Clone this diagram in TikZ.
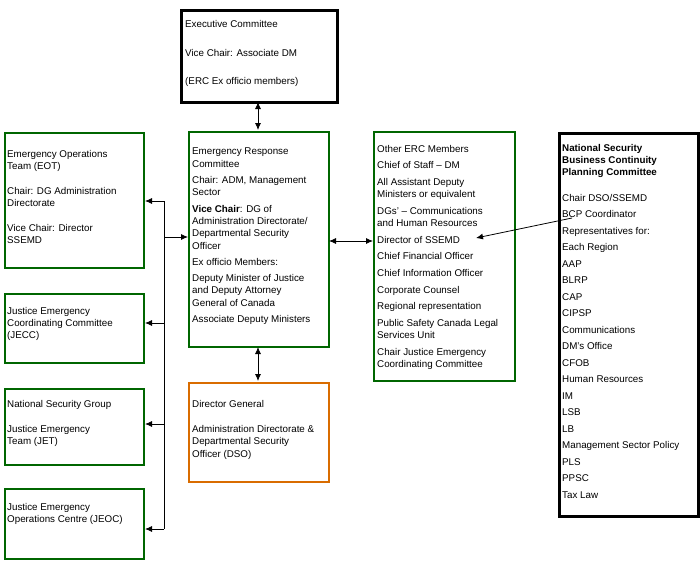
\documentclass[tikz,border=0pt]{standalone}
\usepackage{fontspec}
\setmainfont{Liberation Sans}
\usetikzlibrary{arrows.meta}
\begin{document}
\begin{tikzpicture}[x=1pt,y=-1pt,
  gbox/.style={draw=green!40!black,line width=2pt},
  obox/.style={draw=orange!85!black,line width=2pt},
  kbox/.style={draw=black,line width=3pt},
  txt/.style={anchor=north west,align=left,inner sep=0pt,font=\fontsize{9.8}{12.3}\selectfont},
  arr/.style={-{Latex[length=7pt,width=6pt]},line width=0.8pt},
  darr/.style={{Latex[length=7pt,width=6pt]}-{Latex[length=7pt,width=6pt]},line width=0.8pt}]
\useasboundingbox (0,0) rectangle (700,565);
% boxes
\node[kbox,minimum width=156,minimum height=92,anchor=north west,inner sep=0] (ex) at (180,9) {};
\node[gbox,minimum width=139,minimum height=135,anchor=north west,inner sep=0] (eot) at (4,132) {};
\node[gbox,minimum width=139,minimum height=69,anchor=north west,inner sep=0] (jecc) at (4,293) {};
\node[gbox,minimum width=139,minimum height=76,anchor=north west,inner sep=0] (jet) at (4,388) {};
\node[gbox,minimum width=139,minimum height=70,anchor=north west,inner sep=0] (jeoc) at (4,488) {};
\node[gbox,minimum width=140,minimum height=215,anchor=north west,inner sep=0] (erc) at (188,131) {};
\node[obox,minimum width=140,minimum height=99,anchor=north west,inner sep=0] (dg) at (188,382) {};
\node[gbox,minimum width=141,minimum height=249,anchor=north west,inner sep=0] (oth) at (373,131) {};
\node[kbox,minimum width=139,minimum height=383,anchor=north west,inner sep=0] (ns) at (558,132) {};
% texts
\node[txt] (tex) at (185,20) {Executive Committee\\[16.5pt]Vice Chair: Associate DM\\[16.5pt](ERC Ex officio members)};
\node[txt] (teot) at (7,150) {Emergency Operations\\Team (EOT)\\[12.5pt]Chair: DG Administration\\Directorate\\[12.5pt]Vice Chair: Director\\SSEMD};
\node[txt] (tjecc) at (7,307) {Justice Emergency\\Coordinating Committee\\(JECC)};
\node[txt] (tjet) at (7,400) {National Security Group\\[13pt]Justice Emergency\\Team (JET)};
\node[txt] (tjeoc) at (7,503) {Justice Emergency\\Operations Centre (JEOC)};
\node[txt] (terc) at (192,148) {Emergency Response\\Committee\\[4pt]Chair: ADM, Management\\Sector\\[4pt]\textbf{Vice Chair}: DG of\\Administration Directorate/\\Departmental Security\\Officer\\[4pt]Ex officio Members:\\[4pt]Deputy Minister of Justice\\and Deputy Attorney\\General of Canada\\[4pt]Associate Deputy Ministers};
\node[txt] (tdg) at (192,400) {Director General\\[13pt]Administration Directorate \&\\Departmental Security\\Officer (DSO)};
\node[txt] (toth) at (377,145) {Other ERC Members\\[4.3pt]Chief of Staff -- DM\\[4.3pt]All Assistant Deputy\\Ministers or equivalent\\[4.3pt]DGs' -- Communications\\and Human Resources\\[4.3pt]Director of SSEMD\\[4.3pt]Chief Financial Officer\\[4.3pt]Chief Information Officer\\[4.3pt]Corporate Counsel\\[4.3pt]Regional representation\\[4.3pt]Public Safety Canada Legal\\Services Unit\\[4.3pt]Chair Justice Emergency\\Coordinating Committee};
\node[txt] (tns) at (562,144) {\textbf{National Security}\\\textbf{Business Continuity}\\\textbf{Planning Committee}\\[13pt]Chair DSO/SSEMD\\[4.2pt]BCP Coordinator\\[4.2pt]Representatives for:\\[4.2pt]Each Region\\[4.2pt]AAP\\[4.2pt]BLRP\\[4.2pt]CAP\\[4.2pt]CIPSP\\[4.2pt]Communications\\[4.2pt]DM's Office\\[4.2pt]CFOB\\[4.2pt]Human Resources\\[4.2pt]IM\\[4.2pt]LSB\\[4.2pt]LB\\[4.2pt]Management Sector Policy\\[4.2pt]PLS\\[4.2pt]PPSC\\[4.2pt]Tax Law};
% connectors
\coordinate (b1) at (164,201);
\coordinate (b2) at (164,323);
\coordinate (b3) at (164,424);
\coordinate (b4) at (164,529);
\coordinate (bm) at (164,237);
\draw[line width=0.8pt] (b1) -- (b4);
\draw[arr] (b1) -- (b1 -| eot.east);
\draw[arr] (b2) -- (b2 -| jecc.east);
\draw[arr] (b3) -- (b3 -| jet.east);
\draw[arr] (b4) -- (b4 -| jeoc.east);
\draw[arr] (bm) -- (bm -| erc.west);
\draw[darr] (258,102) -- (258,130);
\draw[darr] (258,347) -- (258,381);
\coordinate (h1) at (329,241);
\draw[darr] (h1) -- (h1 -| oth.west);
\coordinate (nsa) at (572,218);
\coordinate (nsb) at (476,238);
\draw[arr] (nsa) -- (nsb);
\end{tikzpicture}
\end{document}
